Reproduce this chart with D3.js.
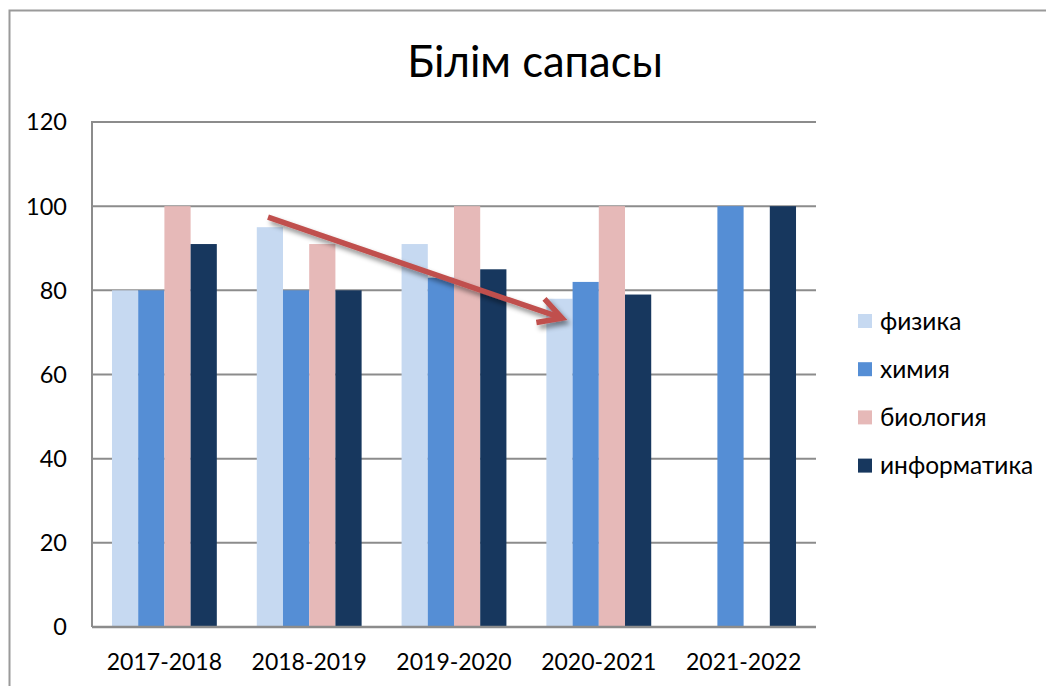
<!DOCTYPE html>
<html><head><meta charset="utf-8">
<script src="https://cdn.jsdelivr.net/npm/d3@7"></script>
<style>
html,body{margin:0;padding:0;background:#fff;}
svg{display:block;}
text{font-family:Lato,"Open Sans",sans-serif;fill:#000;}
</style></head>
<body>
<script>
const title = "Білім сапасы";
const categories = ["2017-2018","2018-2019","2019-2020","2020-2021","2021-2022"];
const seriesNames = ["физика","химия","биология","информатика"];
const fizika      = [80, 95, 91, 78, null];
const himiya      = [80, 80, 83, 82, 100];
const biologiya   = [100, 91, 100, 100, null];
const informatika = [91, 80, 85, 79, 100];
const seriesValues = [fizika, himiya, biologiya, informatika];
const yTicks = [0, 20, 40, 60, 80, 100, 120];
const colors = ["#C6D9F1", "#558ED5", "#E6B9B8", "#17375E"];
// trend arrow annotation: [category, fraction of group width, value]
const arrowStart = ["2018-2019", 0.107, 97.4];
const arrowEnd   = ["2020-2021", 0.149, 73.4];

const W = 1046, H = 686;
const svg = d3.select("body").append("svg").attr("width", W).attr("height", H);

const defs = svg.append("defs");
const f = defs.append("filter").attr("id","sh").attr("x","-20%").attr("y","-50%").attr("width","140%").attr("height","200%");
f.append("feDropShadow").attr("dx",3).attr("dy",4).attr("stdDeviation",2.5).attr("flood-color","#000").attr("flood-opacity",0.45);

// outer frame
svg.append("path").attr("d", `M9.5,${H} V10.5 H${W}`).attr("fill","none").attr("stroke","#9a9a9a").attr("stroke-width",2);

const x = d3.scaleBand().domain(categories).range([92, 816]).paddingInner(0.276).paddingOuter(0.138);
const xs = d3.scaleBand().domain(seriesNames).range([0, x.bandwidth()]);
const y = d3.scaleLinear().domain([0, 120]).range([627, 122]);

// gridlines
svg.append("g").selectAll("line").data(yTicks.filter(t=>t>0)).join("line")
  .attr("x1", 92).attr("x2", 816).attr("y1", d=>y(d)).attr("y2", d=>y(d))
  .attr("stroke","#8c8c8c").attr("stroke-width",2);
// left axis line
svg.append("line").attr("x1",92).attr("x2",92).attr("y1",y(120)-1).attr("y2",y(0))
  .attr("stroke","#8c8c8c").attr("stroke-width",2);

// bars
const rows = [];
categories.forEach((c,i)=>seriesNames.forEach((s,j)=>{ if(seriesValues[j][i]!=null) rows.push({c,s,j,v:seriesValues[j][i]}); }));
svg.append("g").selectAll("rect").data(rows).join("rect")
  .attr("x", d=>x(d.c)+xs(d.s)).attr("width", xs.bandwidth())
  .attr("y", d=>y(d.v)).attr("height", d=>y(0)-y(d.v))
  .attr("fill", d=>colors[d.j]);

// bottom axis line
svg.append("line").attr("x1",92).attr("x2",816).attr("y1",y(0)).attr("y2",y(0))
  .attr("stroke","#8c8c8c").attr("stroke-width",2.5);

// y tick labels
svg.append("g").selectAll("text").data(yTicks).join("text")
  .attr("x", 67).attr("y", d=>y(d)).attr("dy","0.36em").attr("text-anchor","end")
  .style("font-size","23.5px").text(d=>d);

// x labels
svg.append("g").selectAll("text").data(categories).join("text")
  .attr("x", d=>x(d)+x.bandwidth()/2).attr("y", 670).attr("text-anchor","middle")
  .style("font-size","23px").text(d=>d);

// title
svg.append("text").attr("x", 535).attr("y", 77).attr("text-anchor","middle")
  .style("font-size","43.5px").text(title);

// legend
const lg = svg.append("g").selectAll("g").data(seriesNames).join("g")
  .attr("transform", (d,i)=>`translate(858,${321 + i*48.2})`);
lg.append("rect").attr("x",0).attr("y",-7).attr("width",14).attr("height",14).attr("fill",(d,i)=>colors[i]);
lg.append("text").attr("x",22).attr("y",0).attr("dy","0.36em").style("font-size","24.5px").text(d=>d);

// arrow
const ax0 = x(arrowStart[0]) + arrowStart[1]*x.bandwidth(), ay0 = y(arrowStart[2]);
const ax1 = x(arrowEnd[0]) + arrowEnd[1]*x.bandwidth(), ay1 = y(arrowEnd[2]);
const ang = Math.atan2(ay1-ay0, ax1-ax0);
const hl = 26, ha = 0.5;
const w1 = [ax1 - hl*Math.cos(ang-ha), ay1 - hl*Math.sin(ang-ha)];
const w2 = [ax1 - hl*Math.cos(ang+ha), ay1 - hl*Math.sin(ang+ha)];
const ag = svg.append("g").attr("filter","url(#sh)");
ag.append("path").attr("d", `M${ax0},${ay0} L${ax1-2*Math.cos(ang)},${ay1-2*Math.sin(ang)}`)
  .attr("stroke","#C0504D").attr("stroke-width",5.5).attr("fill","none");
ag.append("path").attr("d", `M${w1[0]},${w1[1]} L${ax1},${ay1} L${w2[0]},${w2[1]}`)
  .attr("stroke","#C0504D").attr("stroke-width",5.5).attr("fill","none").attr("stroke-linejoin","miter").attr("stroke-miterlimit",10);
</script>
</body></html>
